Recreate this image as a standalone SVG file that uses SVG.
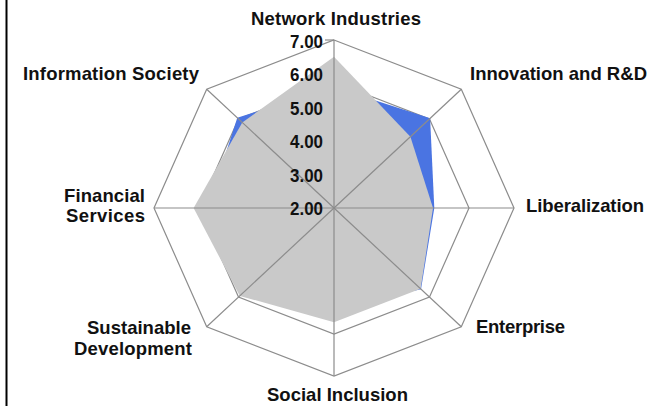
<svg xmlns="http://www.w3.org/2000/svg" width="649" height="406" viewBox="0 0 649 406">
<style>
.ring{fill:none;stroke:#8c8c8c;stroke-width:1.2}
.spoke{stroke:#8c8c8c;stroke-width:1.2}
.lbl{font-family:"Liberation Sans Narrow","Liberation Sans",Arial,sans-serif;font-size:18.5px;font-weight:bold;fill:#111}
.tick{font-family:"Liberation Sans Narrow","Liberation Sans",Arial,sans-serif;font-size:18px;font-weight:bold;fill:#111;text-anchor:end}
</style>
<rect x="0" y="0" width="649" height="406" fill="#fff"/>
<line x1="6.5" y1="0" x2="6.5" y2="406" stroke="#000" stroke-width="2"/>
<g id="grid">
<polygon class="ring" points="334,82 429.5,118.9 469,208 429.5,297.1 334,334 238.5,297.1 199,208 238.5,118.9"/>
</g>
<g id="series-blue">
<polygon fill="#4a74e2" points="334,87 430.1,118.3 434.3,208 421,289.2 334,308.8 244.9,291.2 208,208 237.3,117.7"/>
</g>
<g id="series-gray">
<polygon fill="#c9c9c9" points="334,56.8 410.4,136.7 433,208 420.6,288.8 334,322.2 239.8,295.9 193.6,208 242.3,122.5"/>
</g>
<g id="connectors">
<line class="spoke" x1="334" y1="208" x2="334" y2="40"/>
<line class="spoke" x1="334" y1="208" x2="461.3" y2="89.2"/>
<line class="spoke" x1="334" y1="208" x2="514" y2="208"/>
<line class="spoke" x1="334" y1="208" x2="461.3" y2="326.8"/>
<line class="spoke" x1="334" y1="208" x2="334" y2="376"/>
<line class="spoke" x1="334" y1="208" x2="206.7" y2="326.8"/>
<line class="spoke" x1="334" y1="208" x2="154" y2="208"/>
<line class="spoke" x1="334" y1="208" x2="206.7" y2="89.2"/>
<line class="spoke" x1="325" y1="40" x2="334" y2="40"/>
<polygon class="ring" points="334,40 461.3,89.2 514,208 461.3,326.8 334,376 206.7,326.8 154,208 206.7,89.2"/>
</g>
<g id="axis-ticks">
<text class="tick" x="323" y="47.5" textLength="33" lengthAdjust="spacingAndGlyphs">7.00</text>
<text class="tick" x="323" y="81" textLength="33" lengthAdjust="spacingAndGlyphs">6.00</text>
<text class="tick" x="323" y="114.5" textLength="33" lengthAdjust="spacingAndGlyphs">5.00</text>
<text class="tick" x="323" y="148" textLength="33" lengthAdjust="spacingAndGlyphs">4.00</text>
<text class="tick" x="323" y="181.5" textLength="33" lengthAdjust="spacingAndGlyphs">3.00</text>
<text class="tick" x="323" y="215" textLength="33" lengthAdjust="spacingAndGlyphs">2.00</text>
</g>
<g id="node-network"><text class="lbl" x="251" y="25" textLength="170" lengthAdjust="spacing">Network Industries</text></g>
<g id="node-innovation"><text class="lbl" x="470" y="80" textLength="177" lengthAdjust="spacing">Innovation and R&amp;D</text></g>
<g id="node-liberalization"><text class="lbl" x="526" y="212" textLength="118" lengthAdjust="spacing">Liberalization</text></g>
<g id="node-enterprise"><text class="lbl" x="476" y="333" textLength="89" lengthAdjust="spacing">Enterprise</text></g>
<g id="node-social"><text class="lbl" x="267" y="401" textLength="141" lengthAdjust="spacing">Social Inclusion</text></g>
<g id="node-sustainable">
<text class="lbl" x="87" y="334" textLength="104" lengthAdjust="spacing">Sustainable</text>
<text class="lbl" x="74" y="355" textLength="118" lengthAdjust="spacing">Development</text>
</g>
<g id="node-financial">
<text class="lbl" x="64" y="202" textLength="81" lengthAdjust="spacing">Financial</text>
<text class="lbl" x="66" y="222" textLength="79" lengthAdjust="spacing">Services</text>
</g>
<g id="node-information"><text class="lbl" x="23" y="80" textLength="176" lengthAdjust="spacing">Information Society</text></g>
</svg>
